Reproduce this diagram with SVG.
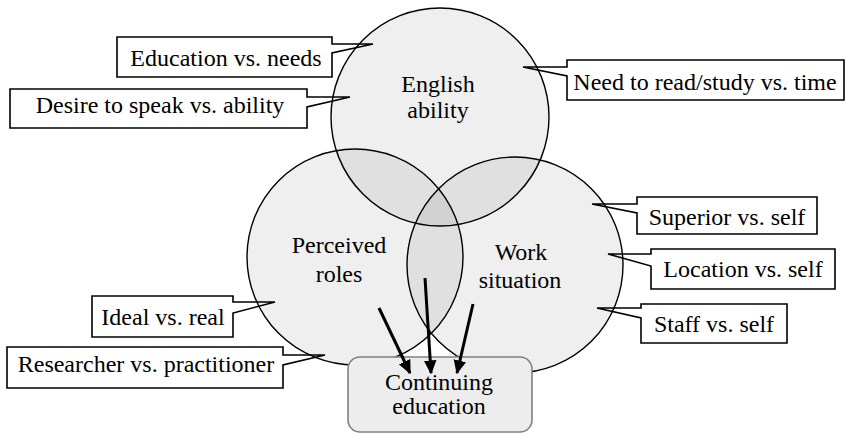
<svg xmlns="http://www.w3.org/2000/svg" width="846" height="434" viewBox="0 0 846 434">
<style>
text{font-family:'Liberation Serif','DejaVu Serif','Noto Serif',serif;font-size:24px;fill:#000;text-anchor:middle}
.call{fill:#fff;stroke:#000;stroke-width:1.6;stroke-linejoin:miter}
.circ{fill:#000;fill-opacity:0.063;stroke:#000;stroke-width:1.4}
.arr{stroke:#000;stroke-width:3;fill:none;marker-end:url(#ah)}
</style>
<defs>
<marker id="ah" viewBox="0 0 10 10" refX="9" refY="5" markerWidth="14" markerHeight="14" markerUnits="userSpaceOnUse" orient="auto">
<path d="M0,0.5 L10,5 L0,9.5 Z" fill="#000"/>
</marker>
</defs>
<rect width="846" height="434" fill="#fff"/>

<g id="callout-education-needs">
<path class="call" d="M117,37 H332 V44 H373 L332,53 V77 H117 Z"/>
<text x="226" y="66" font-family="Liberation Serif, serif">Education vs. needs</text>
</g>
<g id="callout-desire-speak">
<path class="call" d="M10,89 H307 V97 H350 L307,107 V128 H10 Z"/>
<text x="160" y="113" font-family="Liberation Serif, serif">Desire to speak vs. ability</text>
</g>
<g id="callout-need-read">
<path class="call" d="M567,60 H844 V100 H567 V76 L523,67 H567 Z"/>
<text x="705" y="90" font-family="Liberation Serif, serif">Need to read/study vs. time</text>
</g>
<g id="callout-superior">
<path class="call" d="M637,197 H817 V234 H637 V213 L592,204 H637 Z"/>
<text x="727" y="225" font-family="Liberation Serif, serif">Superior vs. self</text>
</g>
<g id="callout-location">
<path class="call" d="M651,249 H835 V289 H651 V266 L608,254 H651 Z"/>
<text x="743" y="277" font-family="Liberation Serif, serif">Location vs. self</text>
</g>
<g id="callout-staff">
<path class="call" d="M641,304 H787 V343 H641 V318 L597,308 H641 Z"/>
<text x="714" y="332" font-family="Liberation Serif, serif">Staff vs. self</text>
</g>
<g id="callout-ideal">
<path class="call" d="M92,296 H233 V302 H275 L233,313 V337 H92 Z"/>
<text x="163" y="325" font-family="Liberation Serif, serif">Ideal vs. real</text>
</g>
<g id="callout-researcher">
<path class="call" d="M7,347 H283 V355 H325 L283,365 V388 H7 Z"/>
<text x="146" y="372" font-family="Liberation Serif, serif">Researcher vs. practitioner</text>
</g>

<g id="english-ability">
<circle class="circ" cx="440" cy="117" r="109"/>
<text x="438" y="92" font-family="Liberation Serif, serif">English</text>
<text x="438" y="118" font-family="Liberation Serif, serif">ability</text>
</g>
<g id="perceived-roles">
<circle class="circ" cx="355" cy="257" r="108"/>
<text x="339" y="253" font-family="Liberation Serif, serif">Perceived</text>
<text x="339" y="282" font-family="Liberation Serif, serif">roles</text>
</g>
<g id="work-situation">
<circle class="circ" cx="515" cy="265" r="108"/>
<text x="521" y="260" font-family="Liberation Serif, serif">Work</text>
<text x="520" y="288" font-family="Liberation Serif, serif">situation</text>
</g>

<g id="continuing-education">
<rect x="348" y="357" width="184" height="75" rx="12" fill="#ededed" stroke="#808080" stroke-width="1.6"/>
<text x="439" y="390" font-family="Liberation Serif, serif">Continuing</text>
<text x="439" y="414" font-family="Liberation Serif, serif">education</text>
</g>

<g id="connectors">
<line class="arr" x1="379" y1="308" x2="410" y2="373"/>
<line class="arr" x1="425" y1="278" x2="431" y2="373"/>
<line class="arr" x1="473" y1="304" x2="457" y2="373"/>
</g>
</svg>
